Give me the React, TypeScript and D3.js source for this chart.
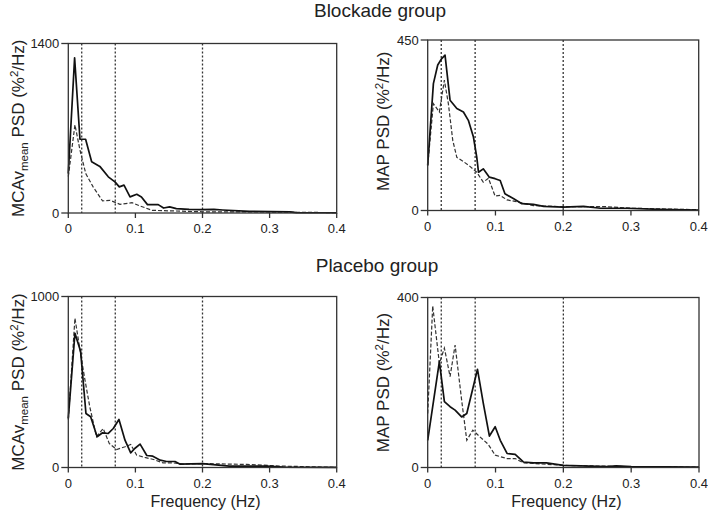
import React from "react";
import * as d3 from "d3";

// ---------- data ----------
const groupTitles = ["Blockade group", "Placebo group"];
const freqTicks = [0, 0.1, 0.2, 0.3, 0.4];
const freqTickLabels = ["0", "0.1", "0.2", "0.3", "0.4"];
const bandEdges = [0.02, 0.07, 0.2];
const yMaxTicks = [1400, 450, 1000, 400];

// [frequency Hz, PSD]
const blockMcaSolid: [number, number][] = [
  [0, 326], [0.0094, 1281], [0.0174, 609], [0.0258, 609], [0.0348, 423], [0.047, 385],
  [0.0596, 299], [0.0695, 257], [0.076, 216], [0.083, 230], [0.092, 133], [0.102, 155],
  [0.109, 133], [0.118, 69], [0.134, 69], [0.142, 41], [0.151, 50], [0.161, 36],
  [0.18, 30], [0.196, 28], [0.217, 30], [0.23, 25], [0.27, 14], [0.33, 10], [0.34, 3], [0.4, 2],
];
const blockMcaDashed: [number, number][] = [
  [0, 300], [0.0099, 728], [0.0174, 520], [0.026, 326], [0.037, 216], [0.051, 100],
  [0.062, 105], [0.077, 72], [0.095, 85], [0.107, 58], [0.125, 22], [0.15, 18],
  [0.2, 10], [0.3, 8], [0.4, 3],
];
const blockMapSolid: [number, number][] = [
  [0, 119], [0.0084, 335], [0.0148, 384], [0.0207, 401], [0.0256, 410], [0.033, 291],
  [0.043, 269], [0.0527, 260], [0.06, 238], [0.0675, 194], [0.0724, 141], [0.075, 101],
  [0.082, 110], [0.091, 88], [0.0995, 84], [0.107, 79], [0.114, 44], [0.127, 31],
  [0.139, 18], [0.156, 16], [0.171, 11], [0.2, 9], [0.23, 11], [0.255, 6], [0.294, 6],
  [0.343, 3], [0.4, 1],
];
const blockMapDashed: [number, number][] = [
  [0, 119], [0.0084, 282], [0.0172, 260], [0.0246, 344], [0.0305, 282], [0.037, 185],
  [0.043, 140], [0.052, 130], [0.06, 120], [0.0724, 101], [0.082, 75], [0.0897, 85],
  [0.0995, 38], [0.107, 40], [0.117, 28], [0.129, 24], [0.141, 19], [0.156, 13],
  [0.2, 10], [0.264, 10], [0.3, 6], [0.4, 2],
];
const placMcaSolid: [number, number][] = [
  [0, 287], [0.0099, 785], [0.0184, 678], [0.0263, 316], [0.0333, 297], [0.043, 180],
  [0.051, 203], [0.0596, 199], [0.067, 228], [0.0755, 281], [0.0845, 160], [0.093, 86],
  [0.099, 111], [0.107, 137], [0.117, 70], [0.126, 66], [0.137, 43], [0.1465, 35],
  [0.159, 35], [0.166, 20], [0.2, 23], [0.24, 8], [0.296, 8], [0.32, 2], [0.4, 1],
];
const placMcaDashed: [number, number][] = [
  [0, 280], [0.0099, 873], [0.0174, 687], [0.0248, 512], [0.032, 355], [0.042, 180],
  [0.052, 228], [0.061, 141], [0.072, 105], [0.0845, 121], [0.093, 135], [0.102, 72],
  [0.114, 59], [0.127, 47], [0.141, 27], [0.156, 27], [0.171, 20], [0.2, 23],
  [0.266, 18], [0.32, 8], [0.4, 1],
];
const placMapSolid: [number, number][] = [
  [0, 64], [0.0172, 249], [0.0246, 155], [0.033, 143], [0.0404, 135], [0.05, 119],
  [0.0576, 127], [0.0734, 231], [0.082, 151], [0.091, 74], [0.0995, 96], [0.107, 64],
  [0.117, 33], [0.129, 31], [0.141, 13], [0.156, 11], [0.175, 11], [0.2, 5],
  [0.264, 2], [0.278, 4], [0.3, 2], [0.4, 1],
];
const placMapDashed: [number, number][] = [
  [0, 127], [0.0074, 380], [0.0172, 245], [0.0246, 281], [0.033, 214], [0.0404, 288],
  [0.05, 159], [0.0576, 64], [0.0665, 88], [0.077, 72], [0.089, 55], [0.0995, 29],
  [0.117, 21], [0.129, 21], [0.141, 11], [0.2, 5], [0.3, 2], [0.4, 1],
];

const FONT = "'Liberation Sans', Arial, Helvetica, sans-serif";

type PanelProps = {
  left: number; right: number; top: number; bottom: number;
  yMax: number; solid: [number, number][]; dashed: [number, number][];
  kind: "mca" | "map"; labelX: number; labelDy: number; showXLabel: boolean;
};

function Panel(p: PanelProps) {
  const x = d3.scaleLinear().domain([0, 0.4]).range([p.left, p.right]);
  const y = d3.scaleLinear().domain([0, p.yMax]).range([p.bottom, p.top]);
  const line = d3.line<[number, number]>().x((d) => x(d[0])).y((d) => y(d[1]));
  const midY = (p.top + p.bottom) / 2 + p.labelDy;
  const midX = (p.left + p.right) / 2;
  return (
    <g fontFamily={FONT}>
      {bandEdges.map((b) => (
        <line key={b} x1={x(b)} x2={x(b)} y1={p.top} y2={p.bottom}
          stroke="#333" strokeWidth={1.3} strokeDasharray="2,2" />
      ))}
      <path d={line(p.dashed) || ""} fill="none" stroke="#333" strokeWidth={1.2}
        strokeDasharray="4,2" />
      <path d={line(p.solid) || ""} fill="none" stroke="#111" strokeWidth={1.7}
        strokeLinejoin="round" />
      <rect x={p.left} y={p.top} width={p.right - p.left} height={p.bottom - p.top}
        fill="none" stroke="#333" strokeWidth={1.3} />
      {[0, p.yMax].map((v) => (
        <g key={v}>
          <line x1={p.left - 7} x2={p.left} y1={y(v)} y2={y(v)} stroke="#333" strokeWidth={1.3} />
          <text x={p.left - 9} y={y(v)} dy="0.35em" textAnchor="end" fontSize={13} fill="#222">{v}</text>
        </g>
      ))}
      {freqTicks.map((t, i) => (
        <g key={t}>
          <line x1={x(t)} x2={x(t)} y1={p.bottom} y2={p.bottom + 5} stroke="#333" strokeWidth={1.3} />
          <text x={x(t)} y={p.bottom + 20} textAnchor="middle" fontSize={13} fill="#222">{freqTickLabels[i]}</text>
        </g>
      ))}
      <text transform={`translate(${p.labelX},${midY}) rotate(-90)`} textAnchor="middle"
        fontSize={17} fill="#222">
        {p.kind === "mca" ? (
          <>
            MCAv<tspan fontSize={11.5} dy={4}>mean</tspan>
            <tspan dy={-4}> PSD (%</tspan>
            <tspan fontSize={11.5} dy={-6}>2</tspan>
            <tspan dy={6}>/Hz)</tspan>
          </>
        ) : (
          <>
            MAP PSD (%<tspan fontSize={11.5} dy={-6}>2</tspan>
            <tspan dy={6}>/Hz)</tspan>
          </>
        )}
      </text>
      {p.showXLabel && (
        <text x={midX + 3} y={p.bottom + 39.5} textAnchor="middle" fontSize={16} fill="#222">
          Frequency (Hz)
        </text>
      )}
    </g>
  );
}

export default function App() {
  return (
    <svg width={708} height={515} style={{ display: "block", position: "absolute", left: 0, top: 0 }}
      xmlns="http://www.w3.org/2000/svg">
      <rect x={0} y={0} width={708} height={515} fill="#fff" />
      <text x={380} y={16.7} textAnchor="middle" fontFamily={FONT} fontSize={19} fill="#222">{groupTitles[0]}</text>
      <text x={377} y={272.3} textAnchor="middle" fontFamily={FONT} fontSize={19} fill="#222">{groupTitles[1]}</text>
      <Panel left={68.3} right={336.7} top={43.5} bottom={213} yMax={yMaxTicks[0]}
        solid={blockMcaSolid} dashed={blockMcaDashed} kind="mca" labelX={24} labelDy={0} showXLabel={false} />
      <Panel left={427.7} right={698.7} top={40} bottom={210.5} yMax={yMaxTicks[1]}
        solid={blockMapSolid} dashed={blockMapDashed} kind="map" labelX={388.5} labelDy={-4} showXLabel={false} />
      <Panel left={68.3} right={336.7} top={296.5} bottom={467.5} yMax={yMaxTicks[2]}
        solid={placMcaSolid} dashed={placMcaDashed} kind="mca" labelX={24} labelDy={0} showXLabel={true} />
      <Panel left={427.7} right={699} top={297.5} bottom={467.5} yMax={yMaxTicks[3]}
        solid={placMapSolid} dashed={placMapDashed} kind="map" labelX={388.5} labelDy={0} showXLabel={true} />
    </svg>
  );
}
